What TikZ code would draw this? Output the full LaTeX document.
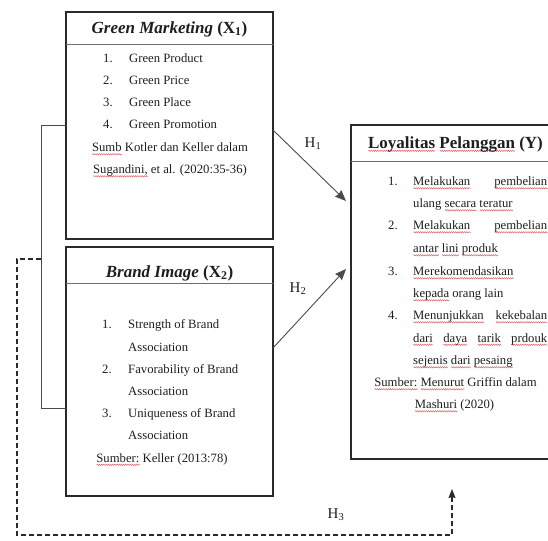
\documentclass[tikz,border=0pt]{standalone}
\usepackage{fontspec}
\setmainfont{Liberation Serif}
\usetikzlibrary{arrows.meta,decorations.pathmorphing}
\definecolor{ink}{HTML}{1E1E1E}
\definecolor{edge}{HTML}{2A2A2A}
\definecolor{conn}{HTML}{4A4A4A}
\definecolor{squig}{HTML}{E06060}
\newsavebox\sqbox
\newlength\sqw
\newcommand\sq[1]{\sbox\sqbox{#1}\setlength\sqw{\wd\sqbox}\rlap{\tikz[baseline=0pt]\draw[squig,line width=0.45pt,decorate,decoration={zigzag,amplitude=0.7pt,segment length=2.2pt}] (0pt,-2.8pt) -- (\sqw,-2.8pt);}\usebox\sqbox}
\begin{document}
\begin{tikzpicture}[x=1pt,y=-1pt,
  box/.style={draw=edge,line width=1.5pt,minimum width=207pt,inner sep=0,outer sep=0},
  divider/.style={draw=conn!80,line width=1pt},
  txt/.style={inner sep=0,anchor=base west,font=\fontsize{12.7}{15}\selectfont,text=ink},
  ctxt/.style={txt,anchor=base},
  ttl/.style={inner sep=0,font=\fontsize{17}{20}\selectfont\bfseries,text=ink},
  lbl/.style={inner sep=0,font=\fontsize{15}{18}\selectfont,text=ink},
  conn/.style={draw=conn,line width=0.9pt},
  arr/.style={conn,-{Stealth[length=11pt,width=9pt,inset=1pt]}},
  dashline/.style={draw=edge,line width=1.3pt,dash pattern=on 5pt off 3pt,-{Stealth[length=9pt,width=7pt,inset=1pt]}}
]
\useasboundingbox (0,0) rectangle (548,540);
\clip (0,0) rectangle (548,540);

% boxes
\node[box,minimum height=227pt] (gm) at (169.5,125.5) {};
\node[box,minimum height=249pt] (bi) at (169.5,371.5) {};
\node[box,minimum width=209pt,minimum height=334pt] (ly) at (455.5,292) {};

% title dividers
\draw[divider] (gm.west |- 0,45) -- (gm.east |- 0,45);
\draw[divider] (bi.west |- 0,283) -- (bi.east |- 0,283);
\draw[divider] (ly.west |- 0,162) -- (ly.east |- 0,162);

% titles
\node[ttl] (gmt) at (169.5,29) {\textit{Green Marketing} (X\textsubscript{1})};
\node[ttl] (bit) at (169.5,273) {\textit{Brand Image} (X\textsubscript{2})};
\node[ttl] (lyt) at (455.5,144) {\sq{Loyalitas} \sq{Pelanggan} (Y)};

% Green Marketing contents
\node[txt] (g1n) at (103,62.5) {1.};
\node[txt] (g1) at (129,62.5) {Green Product};
\node[txt] (g2n) at (103,84.5) {2.};
\node[txt] (g2) at (129,84.5) {Green Price};
\node[txt] (g3n) at (103,106.5) {3.};
\node[txt] (g3) at (129,106.5) {Green Place};
\node[txt] (g4n) at (103,129) {4.};
\node[txt] (g4) at (129,129) {Green Promotion};
\node[ctxt] (gs1) at (170,151.5) {\sq{Sumb} Kotler dan Keller dalam};
\node[ctxt] (gs2) at (170,173.5) {\sq{Sugandini,} et al. (2020:35-36)};

% Brand Image contents
\node[txt] (b1n) at (102,328) {1.};
\node[txt] (b1) at (128,328) {Strength of Brand};
\node[txt] (b1b) at (128,351) {Association};
\node[txt] (b2n) at (102,373) {2.};
\node[txt] (b2) at (128,373) {Favorability of Brand};
\node[txt] (b2b) at (128,395) {Association};
\node[txt] (b3n) at (102,417) {3.};
\node[txt] (b3) at (128,417) {Uniqueness of Brand};
\node[txt] (b3b) at (128,439) {Association};
\node[ctxt] (bs) at (162,462) {\sq{Sumber:} Keller (2013:78)};

% Loyalitas contents
\node[txt] (l1n) at (388,185.5) {1.};
\node[txt] (l1) at (413,185.5) {\makebox[134pt][l]{\sq{Melakukan}\hfill\sq{pembelian}}};
\node[txt] (l1b) at (413,207.5) {ulang \sq{secara} \sq{teratur}};
\node[txt] (l2n) at (388,229.5) {2.};
\node[txt] (l2) at (413,229.5) {\makebox[134pt][l]{\sq{Melakukan}\hfill\sq{pembelian}}};
\node[txt] (l2b) at (413,252.5) {\sq{antar} \sq{lini} \sq{produk}};
\node[txt] (l3n) at (388,275.5) {3.};
\node[txt] (l3) at (413,275.5) {\sq{Merekomendasikan}};
\node[txt] (l3b) at (413,297.5) {\sq{kepada} orang lain};
\node[txt] (l4n) at (388,319.5) {4.};
\node[txt] (l4) at (413,319.5) {\makebox[134pt][l]{\sq{Menunjukkan}\hfill\sq{kekebalan}}};
\node[txt] (l4b) at (413,342) {\makebox[134pt][l]{\sq{dari}\hfill\sq{daya}\hfill\sq{tarik}\hfill\sq{prdouk}}};
\node[txt] (l4c) at (413,364.5) {\sq{sejenis} \sq{dari} \sq{pesaing}};
\node[ctxt] (ls1) at (455.5,386.5) {\sq{Sumber:} \sq{Menurut} Griffin dalam};
\node[ctxt] (ls2) at (454.5,408.5) {\sq{Mashuri} (2020)};

% hypothesis labels
\node[lbl] (h1) at (313,144) {H\textsubscript{1}};
\node[lbl] (h2) at (298,289) {H\textsubscript{2}};
\node[lbl] (h3) at (336,515) {H\textsubscript{3}};

% connectors
\coordinate (jb) at (bi.west |- 0,408);
\draw[conn] (gm.west) -- (41,125.5) |- (jb);

\coordinate (a1e) at (346,201);
\coordinate (a2e) at (346,269);
\draw[arr] ([yshift=-4.5pt]gm.east) -- (a1e);
\draw[arr] ([yshift=23.5pt]bi.east) -- (a2e);

\coordinate (d0) at (41,259);
\coordinate (d4) at (452,489);
\draw[dashline] (d0) -- (17,259) -- (17,535) -- (452,535) -- (d4);
\end{tikzpicture}
\end{document}
